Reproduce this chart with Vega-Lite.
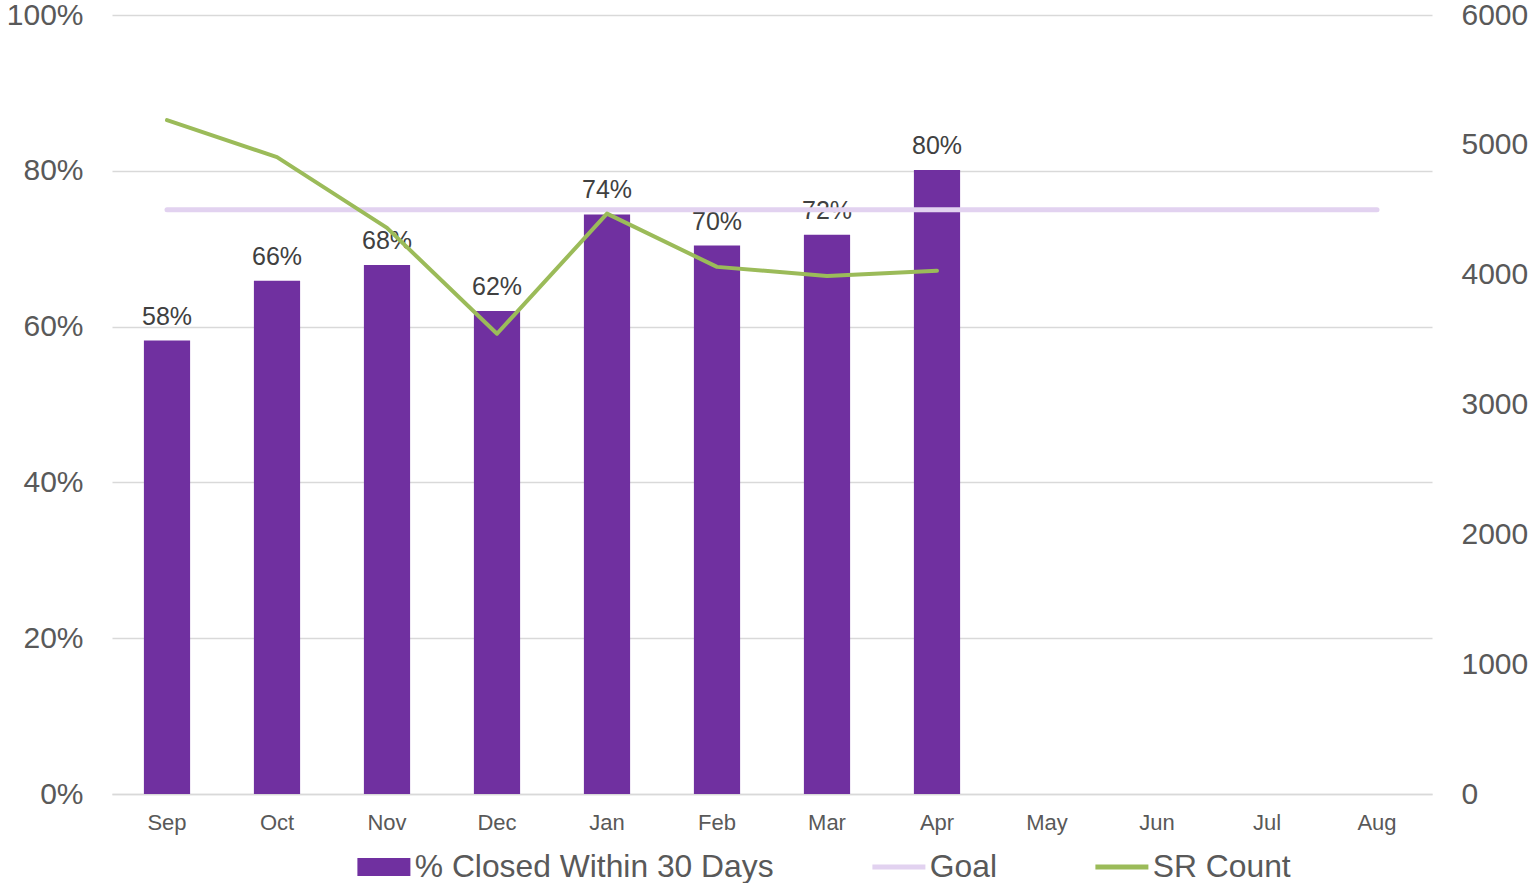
{
  "$schema": "https://vega.github.io/schema/vega-lite/v6.json",
  "autosize": {"type": "none"},
  "width": 1320,
  "height": 779,
  "padding": {"left": 112, "top": 15, "right": 99, "bottom": 89},
  "background": "white",
  "config": {
    "view": {"stroke": null},
    "font": "Liberation Sans"
  },
  "data": {
    "values": [
      {"month": "Sep", "pct": 0.582, "goal": 0.75, "sr": 5190},
      {"month": "Oct", "pct": 0.659, "goal": 0.75, "sr": 4905},
      {"month": "Nov", "pct": 0.679, "goal": 0.75, "sr": 4360},
      {"month": "Dec", "pct": 0.620, "goal": 0.75, "sr": 3545},
      {"month": "Jan", "pct": 0.744, "goal": 0.75, "sr": 4470},
      {"month": "Feb", "pct": 0.704, "goal": 0.75, "sr": 4060},
      {"month": "Mar", "pct": 0.718, "goal": 0.75, "sr": 3990},
      {"month": "Apr", "pct": 0.801, "goal": 0.75, "sr": 4030},
      {"month": "May", "pct": null, "goal": 0.75, "sr": null},
      {"month": "Jun", "pct": null, "goal": 0.75, "sr": null},
      {"month": "Jul", "pct": null, "goal": 0.75, "sr": null},
      {"month": "Aug", "pct": null, "goal": 0.75, "sr": null}
    ]
  },
  "encoding": {
    "x": {
      "field": "month",
      "type": "ordinal",
      "sort": ["Sep","Oct","Nov","Dec","Jan","Feb","Mar","Apr","May","Jun","Jul","Aug"],
      "scale": {"paddingInner": 0.58, "paddingOuter": 0.29},
      "axis": {
        "title": null,
        "labelAngle": 0,
        "labelFontSize": 22,
        "labelColor": "#595959",
        "labelPadding": 18,
        "ticks": false,
        "domain": true,
        "domainColor": "#d9d9d9",
        "domainWidth": 1.5,
        "grid": false
      }
    }
  },
  "layer": [
    {
      "encoding": {
        "y": {
          "field": "pct",
          "type": "quantitative",
          "scale": {"domain": [0, 1], "nice": false},
          "axis": {
            "title": null,
            "format": ".0%",
            "values": [0, 0.2, 0.4, 0.6, 0.8, 1.0],
            "labelFontSize": 30,
            "labelColor": "#595959",
            "labelPadding": 29,
            "ticks": false,
            "domain": false,
            "grid": true,
            "gridColor": "#d9d9d9",
            "gridWidth": 1.5
          }
        }
      },
      "layer": [
        {
          "mark": {"type": "bar"},
          "encoding": {
            "color": {
              "datum": "% Closed Within 30 Days",
              "type": "nominal",
              "scale": {
                "domain": ["% Closed Within 30 Days", "Goal", "SR Count"],
                "range": ["#7030A0", "#E2D2F0", "#9BBB59"]
              },
              "legend": {
                "title": null,
                "orient": "none",
                "direction": "horizontal",
                "legendX": 256,
                "legendY": 836,
                "labelFont": "Liberation Sans",
                "labelFontSize": 31.8,
                "labelColor": "#595959",
                "labelOffset": 15,
                "labelLimit": 0,
                "columnPadding": 88,
                "symbolSize": 2809,
                "encode": {
                  "symbols": {
                    "update": {
                      "shape": {"signal": "datum.value === '% Closed Within 30 Days' ? 'M-1,-0.34H1V0.34H-1Z' : 'M-1,0H1'"},
                      "size": {"value": 2809},
                      "fill": {"signal": "datum.value === '% Closed Within 30 Days' ? '#7030A0' : 'transparent'"},
                      "stroke": {"signal": "datum.value === '% Closed Within 30 Days' ? '#7030A0' : (datum.value === 'Goal' ? '#E2D2F0' : '#9BBB59')"},
                      "strokeWidth": {"signal": "datum.value === '% Closed Within 30 Days' ? 0 : 5"},
                      "opacity": {"value": 1}
                    }
                  }
                }
              }
            }
          }
        },
        {
          "mark": {"type": "text", "baseline": "alphabetic", "dy": -16, "fontSize": 25, "color": "#404040"},
          "encoding": {
            "text": {"field": "pct", "type": "quantitative", "format": ".0%"}
          }
        },
        {
          "mark": {"type": "line", "strokeWidth": 5, "strokeCap": "round"},
          "encoding": {
            "y": {"field": "goal", "type": "quantitative"},
            "color": {"datum": "Goal", "type": "nominal"}
          }
        }
      ]
    },
    {
      "mark": {"type": "line", "strokeWidth": 4, "strokeCap": "round", "strokeJoin": "round"},
      "encoding": {
        "y": {
          "field": "sr",
          "type": "quantitative",
          "scale": {"domain": [0, 6000], "nice": false},
          "axis": {
            "orient": "right",
            "title": null,
            "format": "d",
            "values": [0, 1000, 2000, 3000, 4000, 5000, 6000],
            "labelFontSize": 30,
            "labelColor": "#595959",
            "labelPadding": 29,
            "ticks": false,
            "domain": false,
            "grid": false
          }
        },
        "color": {"datum": "SR Count", "type": "nominal"}
      }
    }
  ],
  "resolve": {"scale": {"y": "independent"}}
}
